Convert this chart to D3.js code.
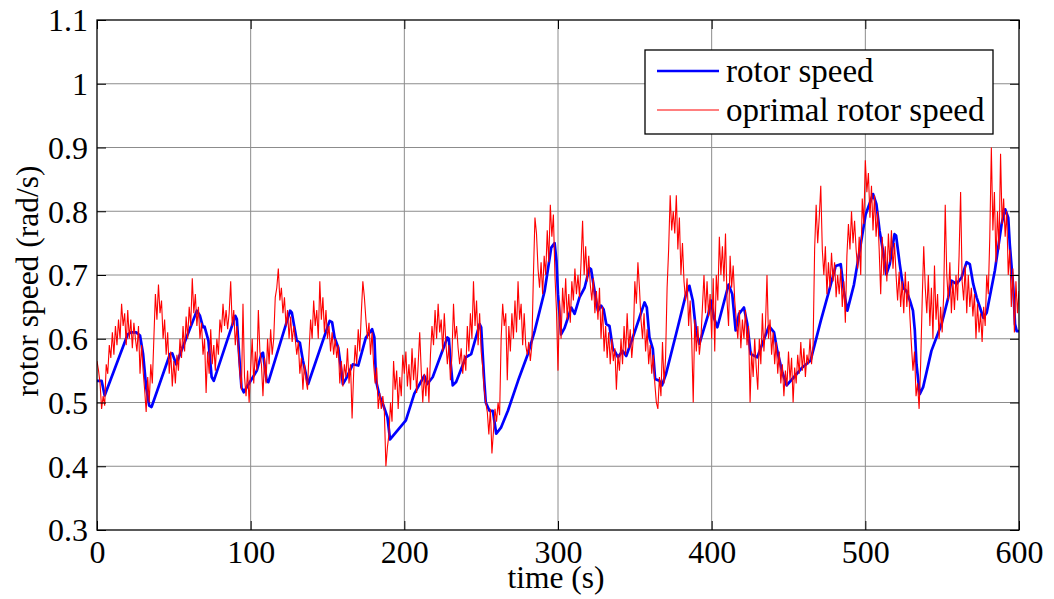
<!DOCTYPE html>
<html>
<head>
<meta charset="utf-8">
<script src="https://cdn.jsdelivr.net/npm/d3@7"></script>
<style>
  html, body { margin: 0; padding: 0; background: #fff; }
  svg { display: block; }
  svg text { font-family: "Liberation Serif", "Times New Roman", serif; fill: #000; }
</style>
</head>
<body>
<div id="chart"></div>
<script>
// rotor speed vs optimal rotor speed — MATLAB-style line plot

// ─── Data ─────────────────────────────────────────────────────────────────────

const xTicks = [0, 100, 200, 300, 400, 500, 600];
const yTicks = [0.3, 0.4, 0.5, 0.6, 0.7, 0.8, 0.9, 1.0, 1.1];
const yTickLabels = ['0.3', '0.4', '0.5', '0.6', '0.7', '0.8', '0.9', '1', '1.1'];
const seriesNames = ['rotor speed', 'oprimal rotor speed'];

// rotor speed (blue), breakpoints
const rotorTime = [
  0, 3, 5, 20, 22, 25.5, 28, 30, 32, 34, 35.5, 47.5, 49, 51.5, 65, 67, 69, 70, 72.5, 74.6, 76,
  90, 91, 92.6, 94, 95.5, 104, 107, 108, 110.4, 111.5, 125.7, 126.8, 130, 132, 134, 137.4,
  151.4, 153, 154.6, 157, 159, 160, 162, 166.5, 170, 175, 179, 180.5, 181.6, 183.8, 186, 189,
  190.7, 201, 206.5, 213, 215, 218.5, 228, 229, 230, 231.5, 233.7, 240, 243.5, 249, 250, 252,
  253, 255.4, 257.6, 259.8, 263, 267.4, 274, 280.4, 284.8, 291.3, 295.6, 297.8, 299, 300, 302,
  304.3, 308.7, 310.8, 314, 317.3, 320.5, 321.5, 323.8, 326, 328, 329.7, 331.4, 333.5, 335.7,
  336.8, 339, 342, 344.4, 348.7, 353, 356.3, 357.8, 359.5, 361.7, 363.2, 366, 367.7, 370.3,
  376.8, 383.3, 385.5, 387.7, 389.8, 392, 398, 399.5, 401.5, 403.7, 411, 413.4, 415.6, 417.8,
  421, 423.2, 425.4, 429.7, 437.3, 440.6, 442.7, 446, 448.8, 453.6, 459, 464.4, 471, 476.4,
  480.7, 484, 486, 488.3, 492.6, 497, 500.2, 505, 507.2, 509.3, 511.5, 513.7, 515.9, 519, 520,
  522.4, 524.6, 526.7, 529, 531, 532.2, 533.3, 535.4, 537.6, 543, 549.6, 554, 556, 559.3,
  562.6, 565.9, 568, 570.2, 572.4, 574.6, 576.7, 579, 584.3, 588.7, 591, 593, 594, 596.3,
  597.4, 598.5, 600
];
const rotorSpeed = [
  .534, .534, .511, .607, .610, .610, .605, .576, .524, .495, .493, .576, .577, .560, .644, .636, .618, .619, .597, .540, .534,
  .636, .631, .571, .524, .516, .550, .576, .578, .534, .532, .644, .641, .597, .594, .566, .529,
  .628, .626, .602, .586, .550, .529, .537, .560, .558, .602, .615, .602, .534, .511, .498, .477,
  .442, .472, .514, .542, .529, .540, .602, .600, .566, .527, .532, .571, .576, .623, .618, .534,
  .500, .487, .487, .451, .461, .487, .534, .576, .612, .675, .743, .750, .722, .670, .607,
  .617, .649, .639, .665, .680, .711, .709, .675, .644, .652, .646, .623, .620, .584,
  .581, .571, .581, .573, .602, .633, .657, .649, .602, .584, .537, .534, .527, .545,
  .607, .670, .683, .660, .613, .592, .640, .660, .633, .618, .685, .670, .613, .639,
  .649, .623, .576, .571, .620, .610, .581, .547, .527, .540, .555, .566, .628, .675,
  .714, .717, .675, .644, .685, .748, .795, .827, .811, .769, .738, .701, .717, .764, .762,
  .717, .680, .675, .660, .644, .613, .560, .513, .524, .581, .623, .665, .691, .686,
  .696, .720, .717, .686, .665, .649, .633, .641, .707, .780, .803, .790, .748, .680,
  .623, .612, .612
];

// optimal rotor speed (red), one value per second from t = 0 to 600
const optimalSpeed = [
  .565, .55, .53, .49, .51, .495, .56, .545, .59, .57, .61, .575, .62, .59, .63, .60, .655, .62, .64, .59,
  .645, .60, .63, .585, .625, .60, .58, .62, .545, .59, .55, .52, .485, .54, .50, .56, .53, .60, .67, .63,
  .685, .64, .66, .60, .63, .575, .61, .545, .58, .525, .565, .53, .575, .55, .60, .57, .62, .58, .635, .60,
  .65, .62, .695, .64, .67, .62, .65, .60, .625, .575, .60, .515, .58, .545, .615, .56, .59, .55, .60, .575,
  .63, .61, .655, .62, .645, .615, .64, .69, .62, .645, .59, .62, .58, .545, .52, .655, .54, .51, .55, .50,
  .555, .60, .53, .58, .55, .645, .58, .56, .51, .57, .53, .60, .56, .615, .575, .60, .665, .68, .71, .66,
  .68, .64, .665, .62, .645, .60, .635, .595, .62, .60, .575, .595, .545, .57, .52, .56, .535, .52, .58, .63,
  .60, .66, .62, .645, .60, .69, .63, .665, .61, .645, .60, .62, .58, .61, .575, .60, .57, .59, .53, .565,
  .525, .56, .54, .585, .53, .56, .475, .545, .59, .56, .615, .58, .64, .69, .665, .63, .60, .625, .575, .61,
  .56, .53, .555, .49, .515, .49, .51, .485, .40, .43, .45, .50, .47, .565, .52, .55, .49, .54, .51, .575,
  .545, .58, .525, .56, .52, .585, .535, .57, .515, .56, .61, .55, .50, .545, .51, .555, .50, .575, .62, .59,
  .645, .60, .655, .61, .63, .58, .64, .595, .56, .59, .535, .575, .655, .60, .62, .585, .56, .585, .545, .575,
  .55, .62, .58, .64, .60, .69, .62, .66, .59, .64, .58, .555, .52, .50, .485, .45, .49, .42, .455, .49,
  .47, .50, .48, .60, .655, .62, .64, .535, .62, .58, .64, .60, .66, .61, .69, .63, .655, .59, .64, .59,
  .575, .595, .565, .59, .70, .79, .765, .71, .68, .72, .67, .73, .70, .77, .72, .81, .76, .795, .70, .645,
  .55, .66, .60, .68, .64, .695, .63, .67, .625, .69, .66, .71, .67, .70, .665, .72, .785, .70, .745, .69,
  .73, .685, .66, .695, .64, .675, .63, .68, .60, .65, .58, .62, .57, .61, .56, .60, .565, .585, .52, .575,
  .55, .60, .56, .62, .575, .64, .585, .615, .57, .60, .69, .655, .72, .68, .63, .60, .64, .58, .615, .56,
  .59, .545, .575, .53, .50, .49, .54, .51, .595, .53, .57, .68, .74, .825, .77, .80, .765, .825, .74, .79,
  .70, .75, .69, .66, .695, .62, .66, .60, .50, .63, .58, .62, .575, .60, .65, .70, .64, .69, .635, .67,
  .60, .695, .58, .70, .66, .76, .70, .745, .69, .765, .66, .62, .73, .68, .715, .66, .63, .60, .645, .585,
  .63, .60, .645, .59, .62, .50, .58, .54, .60, .555, .52, .60, .56, .64, .58, .62, .70, .60, .63, .575,
  .61, .56, .595, .545, .58, .53, .56, .51, .55, .525, .58, .535, .57, .50, .555, .53, .575, .545, .595, .55,
  .585, .54, .575, .56, .60, .56, .59, .74, .81, .75, .79, .84, .74, .70, .745, .67, .72, .68, .735, .69,
  .72, .665, .70, .67, .71, .65, .69, .625, .73, .78, .74, .80, .75, .785, .74, .71, .76, .70, .82, .78,
  .88, .83, .86, .79, .84, .77, .825, .76, .80, .74, .67, .76, .70, .745, .69, .765, .72, .77, .71, .75,
  .70, .66, .705, .65, .69, .64, .705, .65, .69, .635, .59, .55, .58, .51, .53, .49, .56, .66, .745, .68,
  .64, .70, .62, .68, .60, .715, .63, .67, .60, .65, .61, .67, .81, .70, .66, .72, .64, .69, .645, .70,
  .66, .73, .83, .69, .66, .715, .64, .70, .65, .68, .635, .67, .60, .655, .61, .64, .595, .65, .62, .70,
  .67, .76, .90, .77, .83, .72, .80, .74, .89, .78, .82, .76, .80, .70, .74, .65, .71, .61, .69, .64, .675
];
const optimalTime = d3.range(optimalSpeed.length);

// ─── Layout ───────────────────────────────────────────────────────────────────

const W = 1054, H = 599;
const margin = { top: 20, right: 35, bottom: 69, left: 97 };
const plotW = W - margin.left - margin.right;
const plotH = H - margin.top - margin.bottom;
const TICK = 9;
const FONT = '"Liberation Serif", "Times New Roman", serif';
const FONT_TICK = 32, FONT_LABEL = 31.5, FONT_LEGEND = 33;

const svg = d3.select('#chart').append('svg')
  .attr('width', W)
  .attr('height', H);

svg.append('rect').attr('width', W).attr('height', H).attr('fill', '#fff');

const x = d3.scaleLinear().domain([0, 600]).range([0, plotW]);
const y = d3.scaleLinear().domain([0.3, 1.1]).range([plotH, 0]);

const g = svg.append('g').attr('transform', `translate(${margin.left},${margin.top})`);

g.append('defs').append('clipPath').attr('id', 'plot-clip')
  .append('rect').attr('width', plotW).attr('height', plotH);

// ─── Grid ─────────────────────────────────────────────────────────────────────

g.append('g').attr('class', 'grid-x')
  .selectAll('line').data(xTicks.slice(1, -1)).join('line')
  .attr('x1', d => x(d)).attr('x2', d => x(d))
  .attr('y1', 0).attr('y2', plotH)
  .attr('stroke', '#8c8c8c').attr('stroke-width', 1);

g.append('g').attr('class', 'grid-y')
  .selectAll('line').data(yTicks.slice(1, -1)).join('line')
  .attr('x1', 0).attr('x2', plotW)
  .attr('y1', d => y(d)).attr('y2', d => y(d))
  .attr('stroke', '#8c8c8c').attr('stroke-width', 1);

// ─── Lines ────────────────────────────────────────────────────────────────────

const rotorLine = d3.line()
  .x((d, i) => x(rotorTime[i]))
  .y(d => y(d));

const optimalLine = d3.line()
  .x((d, i) => x(optimalTime[i]))
  .y(d => y(d));

const lines = g.append('g').attr('clip-path', 'url(#plot-clip)');

lines.append('path')
  .datum(rotorSpeed)
  .attr('d', rotorLine)
  .attr('fill', 'none')
  .attr('stroke', '#0000ff')
  .attr('stroke-width', 2.7)
  .attr('stroke-linejoin', 'round');

lines.append('path')
  .datum(optimalSpeed)
  .attr('d', optimalLine)
  .attr('fill', 'none')
  .attr('stroke', '#ff0000')
  .attr('stroke-width', 1.1);

// ─── Axes (MATLAB box: inward ticks on all four sides) ───────────────────────

const axisStyle = sel => {
  sel.attr('font-family', FONT);
  sel.select('.domain').remove();
  sel.selectAll('.tick line').attr('stroke', '#000');
  sel.selectAll('.tick text')
    .attr('font-size', FONT_TICK)
    .attr('font-family', FONT)
    .attr('fill', '#000');
};

g.append('g')
  .attr('transform', `translate(0,${plotH})`)
  .call(d3.axisBottom(x).tickValues(xTicks).tickSize(-TICK).tickFormat(d3.format('d')))
  .call(axisStyle)
  .call(s => s.selectAll('.tick text').attr('y', 33).attr('dy', 0));

g.append('g')
  .call(d3.axisTop(x).tickValues(xTicks).tickSize(-TICK).tickFormat(''))
  .call(axisStyle);

g.append('g')
  .call(d3.axisLeft(y).tickValues(yTicks).tickSize(-TICK)
    .tickFormat((d, i) => yTickLabels[i]))
  .call(axisStyle)
  .call(s => s.selectAll('.tick text').attr('x', -9).attr('dy', '0.34em'));

g.append('g')
  .attr('transform', `translate(${plotW},0)`)
  .call(d3.axisRight(y).tickValues(yTicks).tickSize(-TICK).tickFormat(''))
  .call(axisStyle);

g.append('rect')
  .attr('width', plotW).attr('height', plotH)
  .attr('fill', 'none').attr('stroke', '#000').attr('stroke-width', 1.3);

// ─── Axis labels ──────────────────────────────────────────────────────────────

svg.append('text')
  .attr('x', 556)
  .attr('y', 588)
  .attr('text-anchor', 'middle')
  .attr('font-family', FONT)
  .attr('font-size', FONT_LABEL)
  .text('time (s)');

svg.append('text')
  .attr('transform', `translate(38,281) rotate(-90)`)
  .attr('text-anchor', 'middle')
  .attr('font-family', FONT)
  .attr('font-size', FONT_LABEL)
  .text('rotor speed (rad/s)');

// ─── Legend ───────────────────────────────────────────────────────────────────

const legend = svg.append('g').attr('transform', 'translate(645,50)');

legend.append('rect')
  .attr('width', 348).attr('height', 84)
  .attr('fill', '#fff').attr('stroke', '#000').attr('stroke-width', 1.3);

const legendColors = ['#0000ff', '#ff0000'];
const legendWidths = [2.7, 1.1];

const item = legend.selectAll('g.item').data(seriesNames).join('g')
  .attr('class', 'item')
  .attr('transform', (d, i) => `translate(0,${21 + i * 39})`);

item.append('line')
  .attr('x1', 12).attr('x2', 74)
  .attr('stroke', (d, i) => legendColors[i])
  .attr('stroke-width', (d, i) => legendWidths[i]);

item.append('text')
  .attr('x', 81)
  .attr('dy', '0.33em')
  .attr('font-family', FONT)
  .attr('font-size', FONT_LEGEND)
  .text(d => d);
</script>
</body>
</html>
